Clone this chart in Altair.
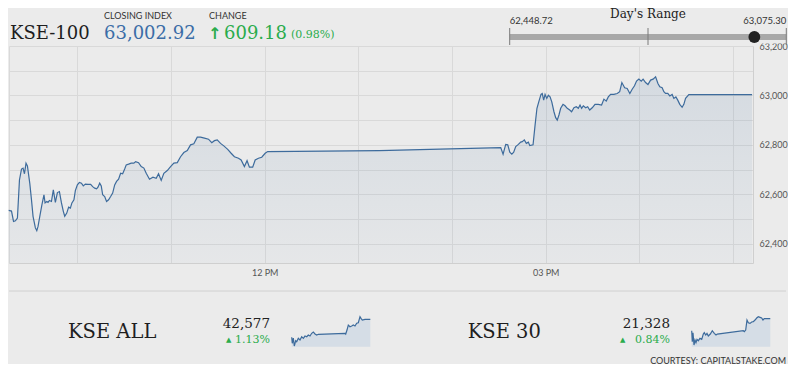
import altair as alt
import pandas as pd

# ---------------- data ----------------
index_name = "KSE-100"
closing_index = 63002.92
change = 609.18
change_pct = 0.98
day_low = 62448.72
day_high = 63075.30

# KSE-100 intraday: minutes after 09:00 and index level
kse100_minutes = [16.0, 17.8, 19.1, 20.3, 21.6, 22.9, 24.2, 25.2, 26.1, 27.1, 28.0, 29.5, 30.6, 31.6, 33.1,
                  34.0, 34.8, 36.1, 37.3, 38.6, 39.3, 40.4, 41.2, 42.1, 43.4, 44.6, 45.9, 47.2, 48.5, 49.8,
                  51.0, 51.9, 53.2, 54.4, 55.5, 56.5, 57.8, 58.7, 60.0, 61.3, 62.6, 63.8, 65.1, 66.8, 68.5,
                  69.8, 71.1, 72.3, 73.2, 74.3, 75.3, 76.2, 77.5, 78.7, 80.0, 81.3, 82.6, 83.9, 85.1, 86.4,
                  87.7, 89.0, 90.3, 91.3, 92.8, 94.5, 96.2,
                  97.3, 99.2, 100.9, 102.6, 104.1, 106.2, 108.4, 110.5, 112.0, 113.7, 115.4, 117.6, 119.7,
                  121.8, 124.0, 126.1, 128.2, 130.4, 132.5, 134.6, 136.8, 138.9, 141.4, 144.0, 146.1, 147.8,
                  149.6, 151.7, 153.8, 156.3, 158.5, 160.6, 163.2, 164.9, 167.0, 168.7, 170.2, 172.3, 173.9,
                  176.0, 178.1, 180.3, 181.9,
                  253.4, 331.2,
                  332.7, 334.4, 335.7, 337.0, 338.3, 339.5, 340.8, 342.5, 344.0, 345.0, 346.3, 347.6, 348.9,
                  349.8, 351.9, 353.2, 354.4, 355.7, 357.0, 357.8, 358.7, 359.6, 360.7, 361.7, 362.8, 363.9,
                  365.3, 366.4, 367.4, 368.5, 369.6, 371.1, 372.4, 373.8, 375.4, 376.6, 378.1, 379.6, 380.9,
                  382.0, 383.0, 384.1, 385.6, 386.9, 388.2, 389.8, 391.6, 393.7, 395.8, 397.3, 398.8, 400.1,
                  401.6, 403.7, 405.8, 407.4,
                  408.8, 410.6, 412.2, 413.9, 415.4, 416.9, 418.2, 419.7, 421.2, 422.4, 424.0, 425.5, 427.2,
                  428.8, 430.4, 431.9, 433.1, 434.6, 435.7, 436.8, 438.2, 439.5, 441.0, 442.1, 443.4, 444.6,
                  445.9, 447.4, 448.5, 449.6, 451.7, 492.2]
kse100_values = [62535, 62532, 62490, 62493, 62504, 62658, 62702, 62706, 62683, 62726, 62715, 62645, 62578, 62511, 62464,
                 62453, 62470, 62517, 62558, 62598, 62565, 62571, 62567, 62575, 62571, 62618, 62567, 62607, 62611, 62565,
                 62531, 62511, 62524, 62548, 62544, 62565, 62578, 62615, 62638, 62648, 62645, 62634, 62641, 62640, 62640,
                 62631, 62625, 62622, 62629, 62645, 62634, 62598, 62591, 62571, 62578, 62591, 62605, 62638, 62652, 62661,
                 62685, 62683, 62702, 62719, 62722, 62726, 62726,
                 62732, 62728, 62712, 62706, 62685, 62661, 62669, 62665, 62683, 62656, 62685, 62696, 62712,
                 62726, 62728, 62752, 62769, 62777, 62800, 62804, 62831, 62831, 62827, 62823, 62809, 62817,
                 62820, 62806, 62796, 62782, 62766, 62752, 62746, 62739, 62712, 62736, 62710, 62710, 62739,
                 62746, 62750, 62766, 62773,
                 62777, 62789,
                 62762, 62802, 62800, 62770, 62762, 62770, 62793, 62802, 62811, 62813, 62820, 62806, 62811,
                 62797, 62800, 62880, 62948, 62977, 63004, 63008, 62981, 63004, 62988, 63001, 62994, 62974,
                 62934, 62910, 62900, 62921, 62948, 62964, 62958, 62948, 62941, 62934, 62950, 62954, 62948,
                 62961, 62948, 62958, 62950, 62954, 62941, 62950, 62964, 62964, 62961, 62985, 62977, 62994,
                 63004, 63004, 63008, 63015,
                 63052, 63031, 63028, 63008, 63025, 63039, 63058, 63066, 63058, 63066, 63052, 63044, 63062,
                 63066, 63075, 63048, 63035, 63031, 63015, 63008, 63008, 62998, 63004, 62988, 62994, 62981,
                 62964, 62952, 62964, 62988, 63003, 63003]

# KSE ALL sparkline
kseall_name = "KSE ALL"
kseall_last = 42577
kseall_pct = 1.13
kseall_minutes = [20.4, 23.9, 29.9, 35.9, 44.2, 50.2, 59.7, 69.8, 80.0, 89.5, 99.6, 109.7, 119.3, 129.4, 139.5,
                  149.1, 159.2, 169.3, 178.9, 337.9, 342.1, 349.8, 357.6, 367.7, 377.8, 387.4, 397.5, 407.6,
                  417.2, 427.3, 433.3, 441.0, 457.1, 488.7]
kseall_values = [42307, 42217, 42296, 42176, 42256, 42241, 42292, 42266, 42316, 42292, 42326, 42316, 42341, 42326, 42367,
                 42387, 42357, 42341, 42352, 42367, 42356, 42416, 42491, 42466, 42476, 42491, 42476, 42517,
                 42526, 42616, 42592, 42566, 42577, 42577]

# KSE 30 sparkline
kse30_name = "KSE 30"
kse30_last = 21328
kse30_pct = 0.84
kse30_minutes = [20.4, 23.9, 28.1, 34.1, 40.0, 46.0, 52.0, 59.7, 69.8, 80.0, 89.5, 95.4, 103.8, 111.5, 119.3,
                 131.2, 143.1, 155.0, 165.2, 172.9, 327.8, 333.8, 342.1, 349.8, 357.6, 367.7, 377.8, 387.4,
                 397.5, 407.6, 417.2, 427.3, 437.2, 445.0, 452.7, 488.5]
kse30_values = [21256, 21190, 21244, 21170, 21200, 21184, 21204, 21196, 21210, 21204, 21236, 21244, 21230, 21240, 21224,
                21236, 21256, 21240, 21230, 21236, 21256, 21250, 21260, 21320, 21304, 21300, 21308, 21310,
                21320, 21332, 21340, 21336, 21332, 21320, 21328, 21328]

# axis ticks
x_grid_minutes = [16.2, 60, 120, 180, 240, 300, 360, 420, 480]
x_label_minutes = [180, 360]
x_label_text = ["12 PM", "03 PM"]
y_grid_values = [62400, 62500, 62600, 62700, 62800, 62900, 63000, 63100, 63200]

# ---------------- style ----------------
BG = "#ebebeb"
LINE = "#3d6b9c"
GREEN = "#2aac4c"
BLUE = "#3b6da7"
GRID = "#d9d9d9"
SERIF = "DejaVu Serif"
SANS = "Lato"

one = pd.DataFrame({"k": [0]})

x_expr = " : ".join(f"datum.value == {m} ? '{t}'" for m, t in zip(x_label_minutes, x_label_text)) + " : ''"

xs = alt.Scale(domain=[16.2, 492.8], nice=False, zero=False)
ys = alt.Scale(domain=[62322, 63200], nice=False, zero=False)
x_axis = alt.Axis(values=x_grid_minutes, labelExpr=x_expr, grid=True, gridColor=GRID, ticks=False,
                  domainColor="#cfcfcf", labelFont=SANS, labelFontSize=9, labelColor="#555",
                  labelPadding=5, title=None, labelFlush=False)
y_axis = alt.Axis(values=y_grid_values, orient="right",
                  labelExpr="datum.value % 200 == 0 ? format(datum.value, ',') : ''",
                  grid=True, gridColor=GRID, ticks=False, domainColor="#cfcfcf",
                  labelFont=SANS, labelFontSize=9, labelColor="#555", labelPadding=6, title=None)

main_df = pd.DataFrame({"t": kse100_minutes, "v": kse100_values})
main_area = alt.Chart(main_df).mark_area(
    color=alt.Gradient(gradient="linear", x1=1, x2=1, y1=0, y2=1,
                       stops=[alt.GradientStop(color="rgba(61,107,156,0.13)", offset=0),
                              alt.GradientStop(color="rgba(61,107,156,0.03)", offset=1)])
).encode(x=alt.X("t:Q", scale=xs, axis=x_axis), y=alt.Y("v:Q", scale=ys, axis=y_axis),
         y2=alt.datum(62322))
main_line = alt.Chart(main_df).mark_line(color=LINE, strokeWidth=1.2).encode(
    x=alt.X("t:Q", scale=xs, axis=x_axis), y=alt.Y("v:Q", scale=ys, axis=y_axis))
main = alt.layer(main_area, main_line)

# cover that hides the top of the 63,200 label (header strip)
cover = alt.Chart(one).mark_rect(color=BG).encode(
    x=alt.value(749), x2=alt.value(787), y=alt.value(-12), y2=alt.value(-2.6))

# Day's range
rs = alt.Scale(domain=[day_low, day_high], range=[500.7, 777.3], nice=False, zero=False)
range_df = pd.DataFrame({"lo": [day_low], "hi": [day_high], "cur": [closing_index]})
tick_df = pd.DataFrame({"p": [day_low, (day_low + day_high) / 2, day_high]})
r_bar = alt.Chart(range_df).mark_rule(color="#a8a8a8", strokeWidth=6).encode(
    x=alt.X("lo:Q", scale=rs, axis=None), x2="hi:Q", y=alt.value(-9))
r_ticks = alt.Chart(tick_df).mark_rule(color="#7a7a7a", strokeWidth=1).encode(
    x=alt.X("p:Q", scale=rs, axis=None), y=alt.value(-18), y2=alt.value(-1))
r_dot = alt.Chart(range_df).mark_circle(size=140, color="#222222", opacity=1).encode(
    x=alt.X("cur:Q", scale=rs, axis=None), y=alt.value(-9))
r_lo = alt.Chart(range_df).mark_text(align="left", baseline="alphabetic", font=SANS, fontSize=9.5,
                                     color="#333").encode(
    x=alt.X("lo:Q", scale=rs, axis=None), y=alt.value(-22), text=alt.Text("lo:Q", format=",.2f"))
r_hi = alt.Chart(range_df).mark_text(align="right", baseline="alphabetic", font=SANS, fontSize=9.5,
                                     color="#333").encode(
    x=alt.X("hi:Q", scale=rs, axis=None), y=alt.value(-22), text=alt.Text("hi:Q", format=",.2f"))
range_layer = alt.layer(r_bar, r_ticks, r_dot, r_lo, r_hi)


def spark(minutes, values, xr, ydom):
    df = pd.DataFrame({"t": minutes, "v": values})
    sx = alt.Scale(domain=[16.2, 492.8], range=xr, nice=False, zero=False)
    sy = alt.Scale(domain=ydom, range=[300.7, 270.7], nice=False, zero=False)
    a = alt.Chart(df).mark_area(color="#d5dde6", opacity=1).encode(
        x=alt.X("t:Q", scale=sx, axis=None), y=alt.Y("v:Q", scale=sy, axis=None), y2=alt.datum(ydom[0]))
    l = alt.Chart(df).mark_line(color=LINE, strokeWidth=1.2).encode(
        x=alt.X("t:Q", scale=sx, axis=None), y=alt.Y("v:Q", scale=sy, axis=None))
    return alt.layer(a, l)


spark_all = spark(kseall_minutes, kseall_values, [282, 362], [42166, 42616])
spark_30 = spark(kse30_minutes, kse30_values, [682, 762], [21160, 21340])


def label(text, x, y, size, color, font, align="left", weight="normal"):
    return alt.Chart(one).mark_text(text=text, align=align, baseline="alphabetic", font=font,
                                    fontSize=size, color=color, fontWeight=weight).encode(
        x=alt.value(x), y=alt.value(y))


sep = alt.Chart(one).mark_rule(color="#d0d0d0", strokeWidth=1).encode(
    x=alt.value(0), x2=alt.value(777), y=alt.value(245))

texts = [
    label(index_name, 1, -6.7, 18, "#1e1e1e", SERIF),
    label("CLOSING INDEX", 95, -27, 9, "#333", SANS),
    label(f"{closing_index:,.2f}", 95, -6.7, 18, BLUE, SERIF),
    label("CHANGE", 200, -27, 9, "#333", SANS),
    label("\u2191", 199, -7.5, 16, GREEN, "DejaVu Sans", weight="bold"),
    label(f"{change:.2f}", 215, -6.7, 18, GREEN, SERIF),
    label(f"({change_pct:.2f}%)", 282, -7.7, 11, GREEN, SERIF),
    label("Day's Range", 639, -28.5, 12, "#222", SERIF, align="center"),
    label(kseall_name, 59, 292, 19.5, "#1e1e1e", SERIF),
    label(f"{kseall_last:,}", 261, 282.3, 13.5, "#222", SERIF, align="right"),
    label("\u25b2", 217, 295.5, 7, GREEN, "DejaVu Sans"),
    label(f"{kseall_pct:.2f}%", 261, 296.7, 11, GREEN, SERIF, align="right"),
    label(kse30_name, 458.7, 292, 19.5, "#1e1e1e", SERIF),
    label(f"{kse30_last:,}", 661, 282.3, 13.5, "#222", SERIF, align="right"),
    label("\u25b2", 611, 295.5, 7, GREEN, "DejaVu Sans"),
    label(f"{kse30_pct:.2f}%", 661, 296.7, 11, GREEN, SERIF, align="right"),
    label("COURTESY: CAPITALSTAKE.COM", 777, 317.5, 9, "#333", SANS, align="right"),
]

chart = alt.layer(main, cover, range_layer, spark_all, spark_30, sep, *texts).resolve_scale(
    x="independent", y="independent"
).properties(
    width=744, height=217,
    padding={"left": 1, "top": 38, "right": 35, "bottom": 101},
    autosize=alt.AutoSizeParams(type="none"),
    background=BG,
).configure_view(stroke=None)

chart.save("out.html", embed_options={"renderer": "svg", "actions": False})
